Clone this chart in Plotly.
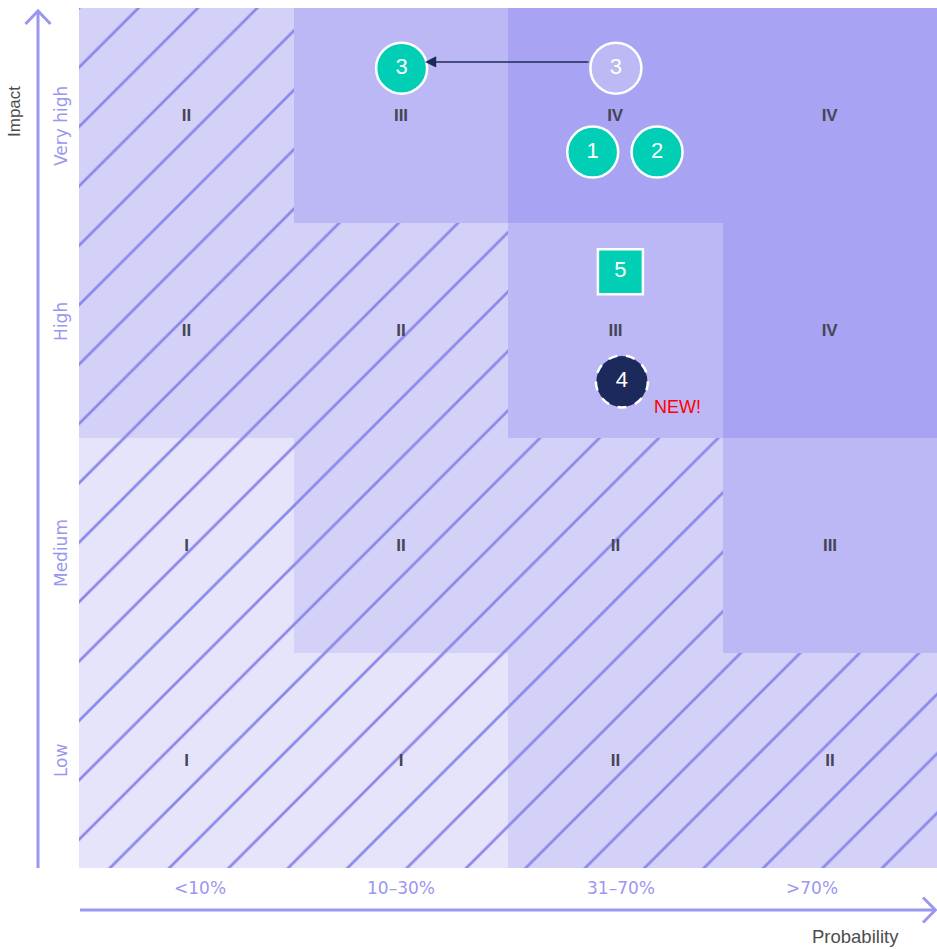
import plotly.graph_objects as go

# ---------------- data ----------------
impact_levels = ["Low", "Medium", "High", "Very high"]
probability_bins = ["<10%", "10–30%", "31–70%", ">70%"]
# risk class per cell, rows from Low (bottom) to Very high (top)
risk_grid = [
    ["I", "I", "II", "II"],
    ["I", "II", "II", "III"],
    ["II", "II", "III", "IV"],
    ["II", "III", "IV", "IV"],
]
# risks placed on the matrix (x = probability position, y = impact position)
risk_ids = ["3", "1", "2"]
risk_x = [1.504, 2.395, 2.695]
risk_y = [3.72, 3.33, 3.33]
moved_from_id = ["3"]
moved_from_x = [2.503]
moved_from_y = [3.72]
square_ids = ["5"]
square_x = [2.524]
square_y = [2.773]
new_ids = ["4"]
new_x = [2.531]
new_y = [2.263]
new_label = "NEW!"

# label positions (layout)
ylabel_pos = [0.502, 1.465, 2.54, 3.451]
xlabel_pos = [0.564, 1.5, 2.527, 3.417]

# ---------------- styles ----------------
level_bg = {"I": "#e5e4fb", "II": "#d3d1f8", "III": "#bcb8f5", "IV": "#a8a4f3"}
hatched = {"I", "II"}
hatch_color = "#8c88ea"
axis_color = "#9a97ef"
teal = "#00cfb5"
navy = "#1b2a5a"

W, H = 937, 949
ML, MR, MT, MB = 79, 0, 8, 81
PW, PH = W - ML - MR, H - MT - MB


def px(xp):
    return (xp - ML) / PW


def py(yp):
    return (H - MB - yp) / PH


fig = go.Figure()

for r, row in enumerate(risk_grid):
    for c, lvl in enumerate(row):
        pattern = dict(shape="/", fgcolor=hatch_color, bgcolor=level_bg[lvl],
                       size=42, solidity=0.065, fillmode="replace") if lvl in hatched else None
        fig.add_trace(go.Bar(
            x=[c + 0.5], y=[1], base=[r], width=[1],
            marker=dict(color=level_bg[lvl], line=dict(width=0), pattern=pattern),
            text=["<b>" + lvl + "</b>"], textposition="inside", insidetextanchor="middle",
            textangle=0, textfont=dict(color="#454557", size=17, family="Liberation Sans Narrow, Liberation Sans"),
            hoverinfo="skip", showlegend=False,
        ))

# previous position of risk 3
fig.add_trace(go.Scatter(
    x=moved_from_x, y=moved_from_y, mode="markers+text", text=moved_from_id,
    marker=dict(size=51, color="#bdb9f5", line=dict(color="white", width=2.5)),
    textfont=dict(color="white", size=22, family="Liberation Sans"),
    textposition="middle center", showlegend=False, hoverinfo="skip"))

fig.add_trace(go.Scatter(
    x=risk_x, y=risk_y, mode="markers+text", text=risk_ids,
    marker=dict(size=51, color=teal, line=dict(color="white", width=2.5)),
    textfont=dict(color="white", size=22, family="Liberation Sans"),
    textposition="middle center", showlegend=False, hoverinfo="skip"))

fig.add_trace(go.Scatter(
    x=square_x, y=square_y, mode="markers+text", text=square_ids,
    marker=dict(size=45, symbol="square", color=teal, line=dict(color="white", width=2.5)),
    textfont=dict(color="white", size=22, family="Liberation Sans"),
    textposition="middle center", showlegend=False, hoverinfo="skip"))

fig.add_trace(go.Scatter(
    x=new_x, y=new_y, mode="markers+text", text=new_ids,
    marker=dict(size=51, color=navy, line=dict(width=0)),
    textfont=dict(color="white", size=22, family="Liberation Sans"),
    textposition="middle center", showlegend=False, hoverinfo="skip"))

shapes = []
# dashed border for the new risk
for xv, yv in zip(new_x, new_y):
    shapes.append(dict(type="circle", xref="x", yref="y", xsizemode="pixel", ysizemode="pixel",
                       xanchor=xv, yanchor=yv, x0=-26, x1=26, y0=-26, y1=26,
                       line=dict(color="white", width=2.5, dash="dash"), layer="above"))

# axis arrows
shapes.append(dict(type="line", xref="paper", yref="paper", x0=px(38), x1=px(38), y0=py(868), y1=py(11),
                   line=dict(color=axis_color, width=3)))
shapes.append(dict(type="path", xref="paper", yref="paper",
                   path=f"M{px(25.5)},{py(24)} L{px(38)},{py(11)} L{px(50.5)},{py(24)}",
                   line=dict(color=axis_color, width=3)))
shapes.append(dict(type="line", xref="paper", yref="paper", x0=px(80), x1=px(935), y0=py(910), y1=py(910),
                   line=dict(color=axis_color, width=3)))
shapes.append(dict(type="path", xref="paper", yref="paper",
                   path=f"M{px(923)},{py(897.5)} L{px(935.5)},{py(910)} L{px(923)},{py(922.5)}",
                   line=dict(color=axis_color, width=3)))

annotations = []
# move arrow from old position to new position of risk 3
annotations.append(dict(x=1.613, y=3.749, ax=2.382, ay=3.749, xref="x", yref="y", axref="x", ayref="y",
                        text="", showarrow=True, arrowhead=2, arrowsize=1.6, arrowwidth=1.4,
                        arrowcolor=navy, standoff=0))
annotations.append(dict(x=new_x[0] + 0.261, y=new_y[0] - 0.121, xref="x", yref="y", text=new_label,
                        xanchor="center", yanchor="middle",
                        showarrow=False, font=dict(color="#ff0000", size=18, family="Liberation Sans")))

for lab, yv in zip(impact_levels, ylabel_pos):
    annotations.append(dict(x=px(61), y=yv, xref="paper", yref="y", text=lab, textangle=-90,
                            xanchor="center", yanchor="middle",
                            showarrow=False, font=dict(color=axis_color, size=17, family="DejaVu Sans")))
for lab, xv in zip(probability_bins, xlabel_pos):
    annotations.append(dict(x=xv, y=py(888), xref="x", yref="paper", text=lab,
                            xanchor="center", yanchor="middle",
                            showarrow=False, font=dict(color=axis_color, size=17, family="DejaVu Sans")))

annotations.append(dict(x=px(15), y=py(112), xref="paper", yref="paper", text="Impact", textangle=-90,
                        xanchor="center", yanchor="middle",
                        showarrow=False, font=dict(color="#4d4d4d", size=17, family="Liberation Sans")))
annotations.append(dict(x=px(855), y=py(936), xref="paper", yref="paper", text="Probability",
                        xanchor="center", yanchor="middle",
                        showarrow=False, font=dict(color="#4d4d4d", size=18.5, family="Liberation Sans")))

fig.update_layout(
    width=W, height=H, margin=dict(l=ML, r=MR, t=MT, b=MB),
    paper_bgcolor="white", plot_bgcolor="white",
    barmode="overlay", bargap=0,
    xaxis=dict(range=[0, 4], showgrid=False, zeroline=False, showticklabels=False, fixedrange=True),
    yaxis=dict(range=[0, 4], showgrid=False, zeroline=False, showticklabels=False, fixedrange=True),
    shapes=shapes, annotations=annotations,
)

fig.write_html("out.html")
